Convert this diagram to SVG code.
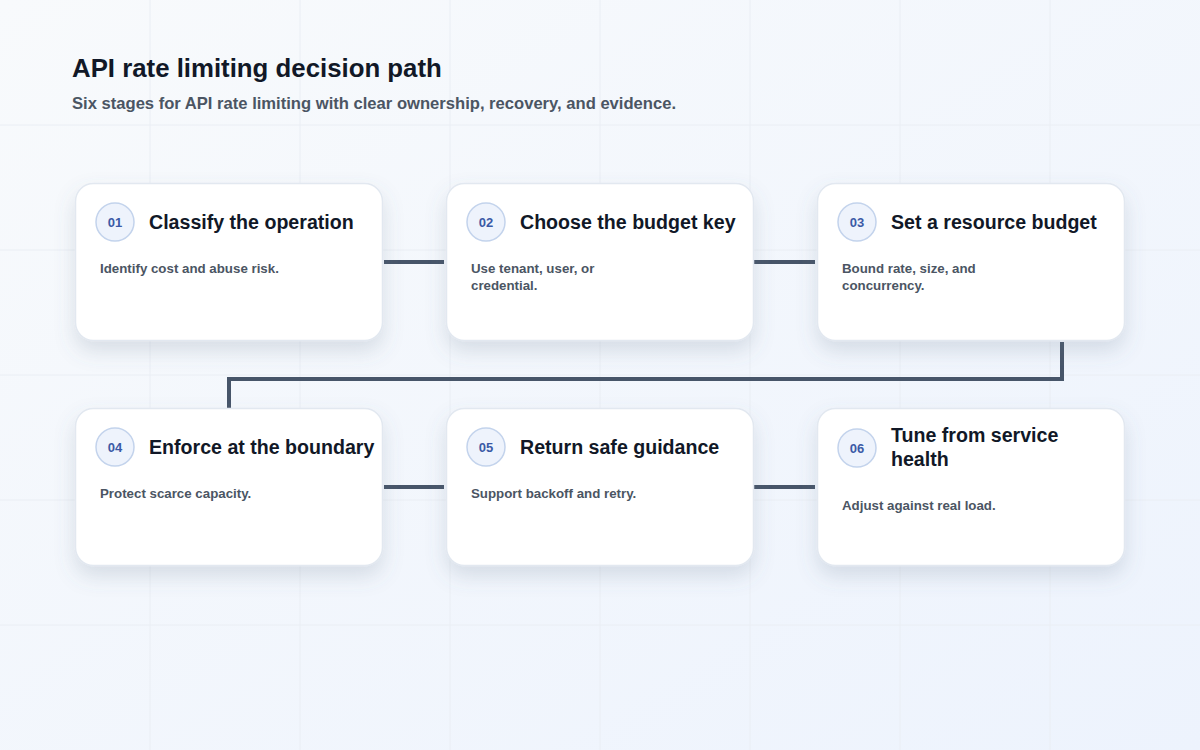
<svg xmlns="http://www.w3.org/2000/svg" width="1200" height="750" viewBox="0 0 1200 750">
<defs>
<linearGradient id="bg" x1="0" y1="0" x2="1" y2="1">
<stop offset="0" stop-color="#f8fafc"/>
<stop offset="1" stop-color="#edf3fd"/>
</linearGradient>
<filter id="shadow" x="-20%" y="-20%" width="140%" height="160%">
<feDropShadow dx="0" dy="10" stdDeviation="10" flood-color="#64748b" flood-opacity="0.2"/>
</filter>
<style>
.grid line{stroke:#eaeef4;stroke-width:1}
.card{fill:#ffffff;stroke:#e2e8f0;stroke-width:1.5;filter:url(#shadow)}
.badge{fill:#eef3fc;stroke:#c3d3ec;stroke-width:1.5}
.num{font-family:"Liberation Sans",Arial,sans-serif;font-size:13px;font-weight:700;fill:#3b5aa6;text-anchor:middle}
.title{font-family:"Liberation Sans",Arial,sans-serif;font-size:19.6px;font-weight:700;fill:#111827}
.desc{font-family:"Liberation Sans",Arial,sans-serif;font-size:13.3px;font-weight:700;fill:#4b5563}
.conn{fill:none;stroke:#475569;stroke-width:4}
.h1{font-family:"Liberation Sans",Arial,sans-serif;font-size:25.8px;font-weight:700;fill:#111827}
.sub{font-family:"Liberation Sans",Arial,sans-serif;font-size:16.6px;font-weight:700;fill:#4b5563}
</style>
</defs>
<rect width="1200" height="750" fill="url(#bg)"/>
<g class="grid">
<line x1="150" y1="0" x2="150" y2="750"/>
<line x1="300" y1="0" x2="300" y2="750"/>
<line x1="450" y1="0" x2="450" y2="750"/>
<line x1="600" y1="0" x2="600" y2="750"/>
<line x1="750" y1="0" x2="750" y2="750"/>
<line x1="900" y1="0" x2="900" y2="750"/>
<line x1="1050" y1="0" x2="1050" y2="750"/>
<line x1="0" y1="125" x2="1200" y2="125"/>
<line x1="0" y1="250" x2="1200" y2="250"/>
<line x1="0" y1="375" x2="1200" y2="375"/>
<line x1="0" y1="500" x2="1200" y2="500"/>
<line x1="0" y1="625" x2="1200" y2="625"/>
</g>
<text class="h1" x="72" y="77">API rate limiting decision path</text>
<text class="sub" x="72" y="109">Six stages for API rate limiting with clear ownership, recovery, and evidence.</text>
<g id="connectors">
<line class="conn" x1="384" y1="262" x2="444" y2="262"/>
<line class="conn" x1="754" y1="262" x2="815" y2="262"/>
<polyline class="conn" points="1062,342 1062,379 229,379 229,408"/>
<line class="conn" x1="384" y1="487" x2="444" y2="487"/>
<line class="conn" x1="754" y1="487" x2="815" y2="487"/>
</g>
<g id="node-01">
<rect class="card" x="75.5" y="183.5" width="307" height="157" rx="18"/>
<circle class="badge" cx="115" cy="222" r="19"/>
<text class="num" x="115" y="226.5">01</text>
<text class="title" x="149" y="229">Classify the operation</text>
<text class="desc" x="100" y="273">Identify cost and abuse risk.</text>
</g>
<g id="node-02">
<rect class="card" x="446.5" y="183.5" width="307" height="157" rx="18"/>
<circle class="badge" cx="486" cy="222" r="19"/>
<text class="num" x="486" y="226.5">02</text>
<text class="title" x="520" y="229">Choose the budget key</text>
<text class="desc" x="471" y="273">Use tenant, user, or</text>
<text class="desc" x="471" y="290">credential.</text>
</g>
<g id="node-03">
<rect class="card" x="817.5" y="183.5" width="307" height="157" rx="18"/>
<circle class="badge" cx="857" cy="222" r="19"/>
<text class="num" x="857" y="226.5">03</text>
<text class="title" x="891" y="229">Set a resource budget</text>
<text class="desc" x="842" y="273">Bound rate, size, and</text>
<text class="desc" x="842" y="290">concurrency.</text>
</g>
<g id="node-04">
<rect class="card" x="75.5" y="408.5" width="307" height="157" rx="18"/>
<circle class="badge" cx="115" cy="447" r="19"/>
<text class="num" x="115" y="451.5">04</text>
<text class="title" x="149" y="454">Enforce at the boundary</text>
<text class="desc" x="100" y="498">Protect scarce capacity.</text>
</g>
<g id="node-05">
<rect class="card" x="446.5" y="408.5" width="307" height="157" rx="18"/>
<circle class="badge" cx="486" cy="447" r="19"/>
<text class="num" x="486" y="451.5">05</text>
<text class="title" x="520" y="454">Return safe guidance</text>
<text class="desc" x="471" y="498">Support backoff and retry.</text>
</g>
<g id="node-06">
<rect class="card" x="817.5" y="408.5" width="307" height="157" rx="18"/>
<circle class="badge" cx="857" cy="448" r="19"/>
<text class="num" x="857" y="452.5">06</text>
<text class="title" x="891" y="442">Tune from service</text>
<text class="title" x="891" y="466">health</text>
<text class="desc" x="842" y="510">Adjust against real load.</text>
</g>
</svg>
